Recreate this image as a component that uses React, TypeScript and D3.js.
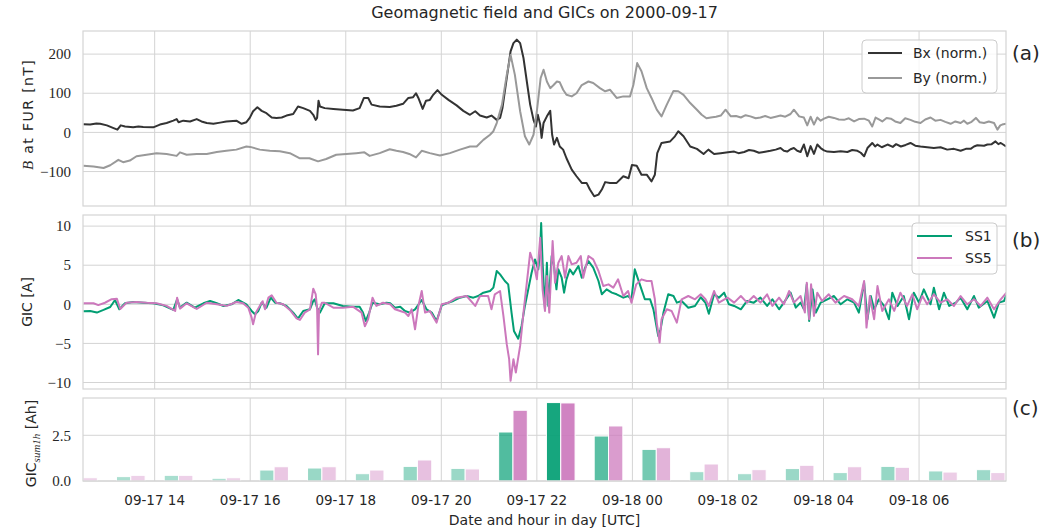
import React from 'react';
import * as d3 from 'd3';

type P = [number, number];

// hours since 2000-09-17 00:00 UTC, value
const BX: P[] = [[12.51,21],[12.65,20],[12.78,23],[12.86,22],[13.0,18],[13.14,11],[13.22,7],[13.29,18],[13.38,15],[13.55,13],[13.66,15],[13.76,14],[13.97,13],[14.11,20],[14.25,24],[14.39,30],[14.46,34],[14.5,26],[14.6,30],[14.74,28],[14.88,34],[14.98,28],[15.09,24],[15.23,22],[15.37,25],[15.5,28],[15.71,30],[15.82,22],[15.92,26],[15.99,37],[16.06,54],[16.15,64],[16.24,55],[16.34,49],[16.45,38],[16.55,37],[16.66,38],[16.76,43],[16.9,47],[17.0,66],[17.11,62],[17.25,55],[17.32,45],[17.37,32],[17.4,37],[17.43,81],[17.46,66],[17.56,62],[17.74,60],[17.94,58],[18.15,56],[18.29,62],[18.38,88],[18.47,88],[18.54,71],[18.71,66],[18.92,65],[19.06,68],[19.2,73],[19.31,88],[19.41,90],[19.47,100],[19.52,88],[19.61,60],[19.68,81],[19.76,83],[19.83,96],[19.92,108],[20.01,96],[20.15,83],[20.32,69],[20.46,55],[20.6,45],[20.71,54],[20.81,43],[20.95,38],[21.05,43],[21.16,32],[21.23,37],[21.28,62],[21.37,139],[21.45,207],[21.51,228],[21.58,237],[21.65,228],[21.72,190],[21.79,130],[21.86,71],[21.93,32],[21.98,15],[22.02,45],[22.07,20],[22.1,-14],[22.14,24],[22.21,41],[22.28,55],[22.32,-6],[22.36,-31],[22.42,-14],[22.48,-36],[22.55,-44],[22.62,-66],[22.73,-95],[22.83,-112],[22.94,-129],[23.04,-129],[23.11,-146],[23.2,-163],[23.29,-159],[23.36,-146],[23.43,-127],[23.53,-129],[23.67,-129],[23.81,-112],[23.92,-117],[23.99,-83],[24.09,-85],[24.19,-108],[24.3,-108],[24.4,-125],[24.47,-108],[24.52,-53],[24.61,-27],[24.79,-23],[24.89,-10],[24.96,3],[25.07,-10],[25.21,-36],[25.35,-42],[25.49,-55],[25.59,-44],[25.71,-55],[25.85,-53],[26.0,-51],[26.13,-49],[26.22,-53],[26.34,-50],[26.44,-45],[26.54,-47],[26.65,-52],[26.75,-50],[26.89,-47],[27.0,-44],[27.1,-40],[27.17,-47],[27.24,-49],[27.31,-43],[27.38,-40],[27.45,-47],[27.52,-50],[27.59,-31],[27.66,-61],[27.73,-35],[27.8,-55],[27.87,-31],[27.94,-40],[28.01,-46],[28.08,-49],[28.22,-50],[28.36,-48],[28.5,-50],[28.6,-45],[28.71,-47],[28.78,-52],[28.85,-61],[28.92,-40],[29.02,-27],[29.08,-36],[29.13,-31],[29.22,-38],[29.34,-31],[29.45,-37],[29.52,-30],[29.62,-36],[29.72,-32],[29.82,-27],[29.92,-34],[30.03,-36],[30.17,-38],[30.31,-40],[30.45,-38],[30.59,-44],[30.73,-42],[30.87,-47],[30.98,-42],[31.08,-42],[31.15,-36],[31.22,-33],[31.36,-34],[31.43,-31],[31.52,-30],[31.6,-23],[31.66,-30],[31.71,-27],[31.76,-31],[31.82,-36]];

const BY: P[] = [[12.51,-85],[12.72,-87],[12.93,-91],[13.07,-84],[13.24,-70],[13.34,-76],[13.48,-72],[13.62,-61],[13.83,-57],[14.04,-53],[14.25,-55],[14.46,-60],[14.53,-51],[14.67,-57],[14.88,-55],[15.09,-55],[15.3,-50],[15.5,-47],[15.71,-44],[15.92,-36],[16.0,-37],[16.2,-44],[16.41,-47],[16.62,-48],[16.83,-53],[17.03,-66],[17.24,-66],[17.42,-74],[17.59,-68],[17.8,-57],[18.01,-55],[18.22,-53],[18.39,-51],[18.5,-60],[18.71,-53],[18.92,-43],[19.06,-47],[19.2,-50],[19.33,-55],[19.47,-64],[19.59,-47],[19.76,-53],[19.97,-59],[20.18,-53],[20.39,-44],[20.6,-36],[20.74,-36],[20.88,-19],[21.02,-6],[21.09,3],[21.16,24],[21.27,71],[21.37,147],[21.45,198],[21.54,147],[21.65,54],[21.75,-10],[21.84,-31],[21.93,-6],[22.0,54],[22.08,139],[22.14,160],[22.21,130],[22.28,113],[22.35,121],[22.42,130],[22.48,128],[22.55,109],[22.62,96],[22.73,92],[22.83,100],[22.94,121],[23.08,130],[23.18,126],[23.32,113],[23.43,105],[23.53,109],[23.67,88],[23.81,92],[23.95,92],[24.02,121],[24.1,177],[24.19,156],[24.3,113],[24.4,88],[24.51,58],[24.61,41],[24.72,71],[24.86,106],[24.96,105],[25.07,96],[25.21,75],[25.35,58],[25.45,45],[25.55,36],[25.64,38],[25.75,40],[25.85,43],[25.95,58],[26.06,41],[26.17,42],[26.27,38],[26.37,44],[26.47,41],[26.58,36],[26.68,38],[26.78,42],[26.89,37],[27.0,40],[27.1,43],[27.2,40],[27.31,47],[27.38,58],[27.49,41],[27.59,38],[27.66,18],[27.73,40],[27.8,20],[27.87,38],[27.94,30],[28.01,35],[28.11,40],[28.22,37],[28.32,33],[28.43,32],[28.53,36],[28.64,28],[28.74,34],[28.85,35],[28.95,30],[29.02,15],[29.09,38],[29.16,33],[29.23,28],[29.32,37],[29.41,35],[29.5,28],[29.61,24],[29.71,36],[29.82,32],[29.92,27],[30.03,24],[30.13,33],[30.24,38],[30.34,30],[30.45,32],[30.55,27],[30.66,22],[30.76,28],[30.87,24],[30.94,30],[31.01,22],[31.1,27],[31.19,37],[31.27,26],[31.36,24],[31.46,28],[31.57,24],[31.64,7],[31.7,18],[31.74,20],[31.82,22]];

const SS1: P[] = [[12.51,-0.89],[12.65,-0.85],[12.79,-1.06],[12.93,-0.72],[13.07,-0.34],[13.17,0.55],[13.26,-0.64],[13.38,0.13],[13.55,0.3],[13.76,0.21],[13.97,0.13],[14.18,-0.13],[14.39,-0.72],[14.47,0.64],[14.53,-0.43],[14.67,0.21],[14.84,-0.43],[15.02,0.13],[15.16,0.43],[15.3,0.13],[15.44,-0.21],[15.61,0],[15.75,0.55],[15.92,0],[16.03,-0.85],[16.1,-1.28],[16.17,-0.85],[16.24,0.21],[16.34,-0.43],[16.43,0.85],[16.52,0.21],[16.62,0.13],[16.76,-0.21],[16.9,-1.06],[17.0,-1.83],[17.11,-0.85],[17.25,-0.64],[17.32,0.43],[17.35,0.64],[17.4,-0.43],[17.46,-1.06],[17.56,0.13],[17.74,0.13],[17.94,-0.21],[18.15,-0.3],[18.29,-0.3],[18.36,-1.06],[18.42,-2.13],[18.49,-1.06],[18.56,0.21],[18.71,0],[18.85,0.21],[18.93,0.13],[19.03,-0.43],[19.14,-0.3],[19.24,-0.85],[19.34,-1.06],[19.45,-0.64],[19.59,0.55],[19.69,-0.64],[19.8,-1.06],[19.9,-2.13],[20.01,-0.13],[20.11,0.13],[20.25,0.43],[20.39,0.85],[20.53,1.06],[20.67,0.85],[20.77,1.06],[20.88,1.49],[21.02,1.7],[21.09,2.13],[21.16,4.26],[21.23,3.83],[21.33,2.98],[21.4,2.55],[21.47,-1.06],[21.52,-3.4],[21.61,-4.4],[21.68,-2.77],[21.75,-0.21],[21.82,1.91],[21.89,4.04],[21.96,5.74],[22.03,4.47],[22.07,7.02],[22.09,10.4],[22.12,5.32],[22.17,-0.64],[22.21,5.32],[22.24,-0.21],[22.31,6.17],[22.36,4.89],[22.41,1.91],[22.45,4.47],[22.52,3.4],[22.57,1.49],[22.62,3.19],[22.69,4.47],[22.76,3.83],[22.87,4.89],[22.94,3.4],[23.01,4.68],[23.08,5.53],[23.18,4.68],[23.29,2.98],[23.36,1.28],[23.46,1.91],[23.57,1.49],[23.67,1.28],[23.81,0.85],[23.91,1.06],[23.98,0.64],[24.05,4.47],[24.12,3.19],[24.19,1.91],[24.26,0.64],[24.37,0.64],[24.44,-0.64],[24.54,-4.04],[24.59,-3.19],[24.65,-1.06],[24.75,1.28],[24.86,1.06],[24.93,0.21],[25.03,0.43],[25.17,-0.43],[25.31,-0.21],[25.43,0.9],[25.53,0.2],[25.6,-1.2],[25.71,1.28],[25.81,0.85],[25.92,1.49],[26.02,0],[26.13,-0.21],[26.27,-0.64],[26.4,0.43],[26.54,0.21],[26.68,0.85],[26.82,-0.21],[26.93,0.64],[27.07,-0.64],[27.17,0.21],[27.31,1.49],[27.42,-0.43],[27.52,0.21],[27.59,-0.64],[27.65,2.55],[27.7,-2.13],[27.77,1.91],[27.84,-1.06],[27.94,0.21],[28.08,0.64],[28.22,1.06],[28.36,0],[28.5,0.64],[28.64,0.21],[28.74,-1.06],[28.85,2.77],[28.92,-1.91],[28.99,1.06],[29.06,-0.64],[29.16,0.64],[29.27,-0.21],[29.37,-1.91],[29.44,1.49],[29.55,-0.21],[29.68,1.06],[29.79,-1.91],[29.89,1.49],[30.0,0.21],[30.1,1.91],[30.24,0],[30.31,2.13],[30.42,-0.64],[30.52,1.49],[30.63,-0.21],[30.77,0.21],[30.87,0.85],[31.01,-0.64],[31.15,1.06],[31.25,-0.43],[31.43,0.43],[31.57,-1.7],[31.67,0.21],[31.78,0.43],[31.83,1.28]];

const SS5: P[] = [[12.51,0.13],[12.72,0.13],[12.82,-0.1],[12.96,0.2],[13.1,0.65],[13.21,0.7],[13.28,-0.6],[13.41,0.2],[13.62,0.3],[13.83,0.2],[14.04,0.13],[14.25,-0.2],[14.43,-0.85],[14.47,0.85],[14.53,-0.55],[14.67,0.13],[14.88,-0.6],[15.09,0.2],[15.3,0],[15.51,-0.2],[15.71,0.3],[15.85,0.13],[15.96,-0.43],[16.03,-1.7],[16.06,-2.55],[16.12,-1.06],[16.2,-0.2],[16.26,0.4],[16.31,-0.64],[16.38,0.85],[16.45,1.15],[16.55,0.2],[16.69,0],[16.83,-0.72],[16.97,-1.8],[17.04,-2.0],[17.14,-1.06],[17.25,-0.64],[17.32,2.0],[17.37,1.3],[17.4,-0.5],[17.42,-6.4],[17.44,-0.8],[17.5,0.2],[17.56,0.2],[17.74,-0.43],[17.94,-0.43],[18.15,-0.3],[18.33,-1.06],[18.4,-2.8],[18.47,-1.9],[18.56,0.85],[18.64,-0.2],[18.78,0.2],[18.93,0],[19.03,-0.64],[19.14,-0.85],[19.24,-1.06],[19.31,-1.49],[19.38,-0.64],[19.45,-3.19],[19.52,-0.21],[19.59,1.7],[19.66,-1.06],[19.76,-0.85],[19.9,-2.34],[20.01,0],[20.15,0.21],[20.32,0.85],[20.53,1.06],[20.71,-0.21],[20.81,1.06],[20.98,1.06],[21.05,-0.64],[21.12,1.28],[21.23,1.7],[21.3,-1.49],[21.37,-5.1],[21.42,-7.02],[21.45,-9.79],[21.51,-7.02],[21.56,-8.72],[21.65,-5.32],[21.72,-1.06],[21.79,2.77],[21.86,6.6],[21.93,5.32],[22.0,3.19],[22.07,8.51],[22.12,1.91],[22.17,-0.85],[22.21,3.62],[22.26,-1.06],[22.33,8.09],[22.38,2.77],[22.45,5.32],[22.52,6.17],[22.59,3.4],[22.66,6.17],[22.73,5.11],[22.83,5.32],[22.92,6.17],[22.97,3.4],[23.08,6.17],[23.18,5.74],[23.29,4.26],[23.39,2.34],[23.5,2.55],[23.6,2.13],[23.7,3.19],[23.81,1.06],[23.91,1.7],[23.98,0.21],[24.08,2.55],[24.19,3.19],[24.3,2.98],[24.4,2.98],[24.47,0.64],[24.51,-2.34],[24.57,-4.89],[24.61,-1.91],[24.72,-0.64],[24.82,-0.85],[24.93,-2.34],[25.03,0.64],[25.17,1.06],[25.31,0.64],[25.43,1.28],[25.53,0.64],[25.6,-0.21],[25.71,1.7],[25.81,0.21],[25.99,0.85],[26.13,0.21],[26.27,1.06],[26.4,0.21],[26.54,1.06],[26.68,0.21],[26.82,1.28],[26.93,-0.21],[27.07,0.85],[27.17,0],[27.28,1.7],[27.38,0.21],[27.52,1.06],[27.61,-1.06],[27.65,2.77],[27.7,-1.91],[27.74,2.55],[27.8,-1.49],[27.87,1.49],[27.97,0.43],[28.11,1.28],[28.25,0.21],[28.43,1.06],[28.6,0.64],[28.74,-0.21],[28.85,2.98],[28.9,-2.98],[28.97,1.06],[29.06,-1.91],[29.13,2.34],[29.23,-0.85],[29.37,0.64],[29.48,-0.85],[29.61,1.49],[29.75,-0.21],[29.86,1.28],[29.96,-0.64],[30.07,1.06],[30.17,0],[30.31,1.28],[30.45,0.21],[30.59,0.64],[30.73,-0.21],[30.87,1.06],[31.01,0],[31.15,0.64],[31.29,-0.21],[31.43,0.85],[31.57,-0.64],[31.71,0.64],[31.83,1.49]];

// hourly sums (bin centres, hours since 09-17 00:00)
const BAR_HOURS = [12.5, 13.5, 14.5, 15.5, 16.5, 17.5, 18.5, 19.5, 20.5, 21.5, 22.5, 23.5, 24.5, 25.5, 26.5, 27.5, 28.5, 29.5, 30.5, 31.5];
const SS1_SUM = [0.2, 0.24, 0.31, 0.15, 0.6, 0.71, 0.4, 0.8, 0.69, 2.68, 4.29, 2.46, 1.73, 0.51, 0.4, 0.68, 0.46, 0.8, 0.55, 0.62];
const SS5_SUM = [0.18, 0.31, 0.31, 0.18, 0.78, 0.78, 0.6, 1.15, 0.66, 3.87, 4.27, 3.01, 1.82, 0.93, 0.62, 0.86, 0.78, 0.75, 0.49, 0.46];

const TICKS_A = [-100, 0, 100, 200];
const TICKS_B = [-10, -5, 0, 5, 10];
const TICKS_C = [0, 2.5];

const BASE = Date.UTC(2000, 8, 17, 0, 0, 0);
const toDate = (h: number) => new Date(BASE + h * 3600e3);

const SANS = 'DejaVu Sans';
const SERIF = 'Liberation Serif';
const GRID = '#d4d4d4';
const TXT = '#262626';
const C_BX = '#333333';
const C_BY = '#999999';
const C_SS1 = '#029e73';
const C_SS5 = '#cc78bc';

export default function App() {
  const L = 83, R = 1006;
  const A = { top: 31, bottom: 206 };
  const B = { top: 215, bottom: 389 };
  const C = { top: 398, bottom: 481 };

  const x = d3.scaleUtc().domain([toDate(12.5), toDate(31.82)]).range([L, R]);
  const yA = d3.scaleLinear().domain([-188, 259]).range([A.bottom, A.top]);
  const yB = d3.scaleLinear().domain([-10.83, 11.42]).range([B.bottom, B.top]);
  const yC = d3.scaleLinear().domain([0, 4.54]).range([C.bottom, C.top]);

  const xTicks = x.ticks(d3.utcHour.every(2)!);
  const fmt = d3.utcFormat('%m-%d %H');
  const minus = (v: number, f: (n: number) => string) => (v < 0 ? '\u2212' + f(-v) : f(v));

  const lineA = d3.line<P>().x(d => x(toDate(d[0]))).y(d => yA(d[1]));
  const lineB = d3.line<P>().x(d => x(toDate(d[0]))).y(d => yB(d[1]));

  const maxSum = d3.max([...SS1_SUM, ...SS5_SUM]) as number;
  const alpha = (v: number) => 0.3 + 0.62 * (v / maxSum);

  const vGrid = (p: { top: number; bottom: number }) =>
    xTicks.map((t, i) => (
      <line key={'v' + i} x1={x(t)} x2={x(t)} y1={p.top} y2={p.bottom} stroke={GRID} strokeWidth={1} />
    ));

  const frame = (p: { top: number; bottom: number }) => (
    <rect x={L} y={p.top} width={R - L} height={p.bottom - p.top} fill="none" stroke={GRID} strokeWidth={1.2} />
  );

  return (
    <svg width={1044} height={531} style={{ position: 'absolute', left: 0, top: 0, background: '#fff' }}>
      <defs>
        <clipPath id="clipA"><rect x={L} y={A.top} width={R - L} height={A.bottom - A.top} /></clipPath>
        <clipPath id="clipB"><rect x={L} y={B.top} width={R - L} height={B.bottom - B.top} /></clipPath>
        <clipPath id="clipC"><rect x={L} y={C.top} width={R - L} height={C.bottom - C.top} /></clipPath>
      </defs>
      <rect x={0} y={0} width={1044} height={531} fill="#fff" />

      <text x={(L + R) / 2} y={18} textAnchor="middle" fontFamily={SANS} fontSize={16} fill={TXT}>
        Geomagnetic field and GICs on 2000-09-17
      </text>

      {/* Panel A */}
      {TICKS_A.map(v => (
        <g key={'a' + v}>
          <line x1={L} x2={R} y1={yA(v)} y2={yA(v)} stroke={GRID} strokeWidth={1} />
          <text x={71} y={yA(v)} dy="0.35em" textAnchor="end" fontFamily={SERIF} fontSize={15} fill={TXT}>
            {minus(v, n => String(n))}
          </text>
        </g>
      ))}
      {vGrid(A)}
      <g clipPath="url(#clipA)">
        <path d={lineA(BX) || ''} fill="none" stroke={C_BX} strokeWidth={2} strokeLinejoin="round" />
        <path d={lineA(BY) || ''} fill="none" stroke={C_BY} strokeWidth={2} strokeLinejoin="round" />
      </g>
      {frame(A)}
      <text transform={`translate(33,${(A.top + A.bottom) / 2 - 4}) rotate(-90)`} textAnchor="middle" fontFamily={SANS} fontSize={14} letterSpacing={1.4} fill={TXT}>
        <tspan fontFamily={SERIF} fontStyle="italic" fontSize={15}>B</tspan>
        <tspan> at FUR [nT]</tspan>
      </text>
      <g>
        <rect x={862} y={40} width={135} height={53} rx={4} fill="#fff" fillOpacity={0.8} stroke="#cccccc" strokeWidth={1} />
        <line x1={868} x2={902} y1={53} y2={53} stroke={C_BX} strokeWidth={2} />
        <line x1={868} x2={902} y1={78} y2={78} stroke={C_BY} strokeWidth={2} />
        <text x={913} y={53} dy="0.35em" fontFamily={SANS} fontSize={14} fill={TXT}>Bx (norm.)</text>
        <text x={913} y={78} dy="0.35em" fontFamily={SANS} fontSize={14} fill={TXT}>By (norm.)</text>
      </g>
      <text x={1012} y={60} fontFamily={SANS} fontSize={20} fill={TXT}>(a)</text>

      {/* Panel B */}
      {TICKS_B.map(v => (
        <g key={'b' + v}>
          <line x1={L} x2={R} y1={yB(v)} y2={yB(v)} stroke={GRID} strokeWidth={1} />
          <text x={71} y={yB(v)} dy="0.35em" textAnchor="end" fontFamily={SERIF} fontSize={15} fill={TXT}>
            {minus(v, n => String(n))}
          </text>
        </g>
      ))}
      {vGrid(B)}
      <g clipPath="url(#clipB)">
        <path d={lineB(SS1) || ''} fill="none" stroke={C_SS1} strokeWidth={2} strokeLinejoin="round" />
        <path d={lineB(SS5) || ''} fill="none" stroke={C_SS5} strokeWidth={2} strokeLinejoin="round" />
      </g>
      {frame(B)}
      <text transform={`translate(32,${(B.top + B.bottom) / 2}) rotate(-90)`} textAnchor="middle" fontFamily={SANS} fontSize={14} fill={TXT}>
        GIC [A]
      </text>
      <g>
        <rect x={912} y={223} width={85} height={51} rx={4} fill="#fff" fillOpacity={0.8} stroke="#cccccc" strokeWidth={1} />
        <line x1={917} x2={952} y1={236} y2={236} stroke={C_SS1} strokeWidth={2} />
        <line x1={917} x2={952} y1={258} y2={258} stroke={C_SS5} strokeWidth={2} />
        <text x={965} y={236} dy="0.35em" fontFamily={SANS} fontSize={14} fill={TXT}>SS1</text>
        <text x={965} y={258} dy="0.35em" fontFamily={SANS} fontSize={14} fill={TXT}>SS5</text>
      </g>
      <text x={1012} y={247} fontFamily={SANS} fontSize={20} fill={TXT}>(b)</text>

      {/* Panel C */}
      {TICKS_C.map(v => (
        <g key={'c' + v}>
          <line x1={L} x2={R} y1={yC(v)} y2={yC(v)} stroke={GRID} strokeWidth={1} />
          <text x={71} y={yC(v)} dy="0.35em" textAnchor="end" fontFamily={SERIF} fontSize={15} fill={TXT}>
            {v.toFixed(1)}
          </text>
        </g>
      ))}
      {vGrid(C)}
      <g clipPath="url(#clipC)">
        {BAR_HOURS.map((h, i) => {
          const x0 = x(toDate(h - 0.3));
          const xm = x(toDate(h));
          const x1 = x(toDate(h + 0.3));
          return (
            <g key={'bar' + i}>
              <rect x={x0} y={yC(SS1_SUM[i])} width={xm - x0} height={yC(0) - yC(SS1_SUM[i])}
                fill={C_SS1} fillOpacity={alpha(SS1_SUM[i])} stroke="#fff" strokeWidth={1} />
              <rect x={xm} y={yC(SS5_SUM[i])} width={x1 - xm} height={yC(0) - yC(SS5_SUM[i])}
                fill={C_SS5} fillOpacity={alpha(SS5_SUM[i])} stroke="#fff" strokeWidth={1} />
            </g>
          );
        })}
      </g>
      {frame(C)}
      <text transform={`translate(36,${(C.top + C.bottom) / 2 + 4}) rotate(-90)`} textAnchor="middle" fontFamily={SANS} fontSize={14} fill={TXT}>
        <tspan>GIC</tspan>
        <tspan fontFamily={SERIF} fontStyle="italic" fontSize={11} dy={4}>sum1h</tspan>
        <tspan dy={-4}> [Ah]</tspan>
      </text>
      <text x={1012} y={415} fontFamily={SANS} fontSize={20} fill={TXT}>(c)</text>

      {xTicks.map((t, i) => (
        <text key={'xt' + i} x={x(t)} y={505} textAnchor="middle" fontFamily={SANS} fontSize={13.5} fill={TXT}>
          {fmt(t)}
        </text>
      ))}
      <text x={(L + R) / 2} y={525} textAnchor="middle" fontFamily={SANS} fontSize={14} fill={TXT}>
        Date and hour in day [UTC]
      </text>
    </svg>
  );
}
